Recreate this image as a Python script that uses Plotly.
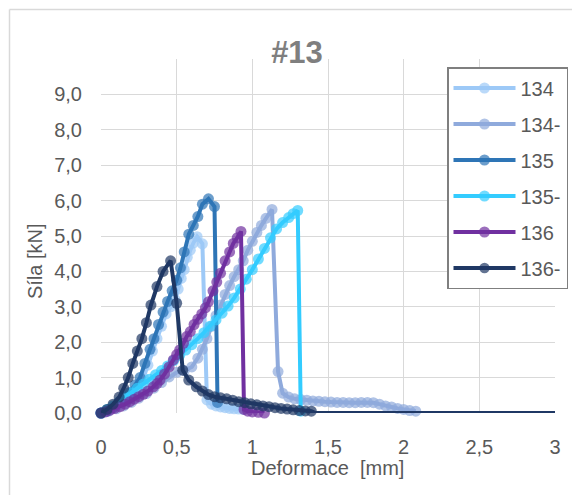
import plotly.graph_objects as go

# Series names, colours and measured points (deformation in mm, force in kN)
names = ["134", "134-", "135", "135-", "136", "136-"]
colors = ["#9DC9F7", "#8FAADC", "#2E75B6", "#33CCFF", "#7030A0", "#1F3864"]

x_134 = [0, 0.05, 0.10, 0.15, 0.20, 0.24, 0.28, 0.31, 0.34, 0.37, 0.40, 0.43, 0.46,
         0.49, 0.51, 0.53, 0.55, 0.57, 0.59, 0.61, 0.635, 0.67, 0.70, 0.73, 0.76,
         0.79, 0.82, 0.85, 0.88, 0.91, 0.94]
y_134 = [0, 0.10, 0.20, 0.35, 0.50, 0.70, 1.00, 1.35, 1.75, 2.10, 2.45, 2.80, 3.00,
         3.20, 3.50, 3.80, 4.05, 4.40, 4.60, 4.80, 4.98, 4.78, 0.37, 0.25, 0.20,
         0.17, 0.15, 0.13, 0.12, 0.11, 0.10]

x_134m = [0, 0.05, 0.10, 0.15, 0.20, 0.25, 0.30, 0.35, 0.40, 0.45, 0.50, 0.55, 0.60,
          0.64, 0.67, 0.70, 0.73, 0.76, 0.79, 0.82, 0.85, 0.88, 0.91, 0.94, 0.97,
          1.00, 1.03, 1.06, 1.09, 1.13, 1.17, 1.20, 1.24, 1.28, 1.32, 1.36, 1.40,
          1.44, 1.48, 1.52, 1.56, 1.60, 1.64, 1.68, 1.72, 1.76, 1.80, 1.84, 1.88,
          1.92, 1.96, 2.00, 2.04, 2.08]
y_134m = [0, 0.05, 0.12, 0.20, 0.30, 0.42, 0.55, 0.70, 0.86, 1.02, 1.15, 1.20, 1.30,
          1.55, 1.80, 2.10, 2.45, 2.75, 3.05, 3.35, 3.60, 3.85, 4.05, 4.30, 4.60,
          4.85, 5.10, 5.30, 5.50, 5.75, 1.17, 0.56, 0.45, 0.40, 0.38, 0.36, 0.34,
          0.33, 0.32, 0.31, 0.30, 0.30, 0.29, 0.29, 0.30, 0.30, 0.29, 0.25, 0.20,
          0.17, 0.13, 0.10, 0.07, 0.05]

x_135 = [0, 0.04, 0.08, 0.12, 0.16, 0.19, 0.225, 0.258, 0.29, 0.324, 0.35, 0.38,
         0.41, 0.44, 0.47, 0.50, 0.525, 0.55, 0.58, 0.61, 0.64, 0.67, 0.71, 0.75, 0.77]
y_135 = [0, 0.05, 0.15, 0.30, 0.45, 0.58, 0.79, 1.00, 1.40, 1.80, 2.10, 2.50,
         2.85, 3.15, 3.45, 3.75, 4.10, 4.55, 5.05, 5.30, 5.55, 5.90, 6.05, 5.83, 0.30]

x_135m = [0, 0.04, 0.08, 0.12, 0.16, 0.20, 0.24, 0.28, 0.32, 0.36, 0.40, 0.44, 0.48,
          0.52, 0.56, 0.60, 0.64, 0.68, 0.72, 0.76, 0.80, 0.84, 0.88, 0.92, 0.96,
          1.00, 1.04, 1.08, 1.12, 1.16, 1.20, 1.24, 1.27, 1.30, 1.32]
y_135m = [0, 0.10, 0.20, 0.32, 0.45, 0.57, 0.70, 0.82, 0.95, 1.08, 1.20, 1.33, 1.48,
          1.63, 1.78, 1.93, 2.10, 2.27, 2.45, 2.63, 2.82, 3.02, 3.25, 3.50, 3.78,
          4.05, 4.35, 4.65, 4.95, 5.20, 5.38, 5.52, 5.63, 5.72, 0.05]

x_136 = [0, 0.03, 0.06, 0.09, 0.126, 0.16, 0.19, 0.22, 0.25, 0.28, 0.31, 0.346, 0.37,
         0.39, 0.42, 0.45, 0.478, 0.50, 0.52, 0.545, 0.566, 0.59, 0.615, 0.64, 0.666,
         0.69, 0.71, 0.74, 0.765, 0.79, 0.82, 0.85, 0.874, 0.90, 0.925, 0.945, 0.97,
         1.00, 1.04, 1.08]
y_136 = [0, 0.03, 0.08, 0.13, 0.18, 0.25, 0.32, 0.39, 0.46, 0.53, 0.62, 0.74, 0.83,
         0.93, 1.10, 1.30, 1.50, 1.65, 1.78, 1.97, 2.16, 2.30, 2.50, 2.65, 2.80,
         2.97, 3.14, 3.45, 3.70, 3.95, 4.30, 4.55, 4.79, 4.95, 5.13, 0.10, 0.05,
         0.03, 0.02, 0.00]

x_136m = [0, 0.04, 0.08, 0.12, 0.15, 0.18, 0.21, 0.24, 0.27, 0.30, 0.33, 0.37, 0.41,
          0.46, 0.50, 0.54, 0.58, 0.63, 0.67, 0.71, 0.75, 0.79, 0.83, 0.87, 0.91,
          0.95, 0.99, 1.03, 1.07, 1.11, 1.15, 1.19, 1.23, 1.27, 1.31, 1.35, 1.39,
          1.42, 3.00]
y_136m = [0, 0.10, 0.25, 0.45, 0.70, 1.00, 1.40, 1.75, 2.10, 2.55, 3.05, 3.57, 4.00,
          4.30, 3.10, 1.21, 0.93, 0.74, 0.62, 0.52, 0.46, 0.43, 0.40, 0.36, 0.32,
          0.29, 0.26, 0.23, 0.20, 0.18, 0.15, 0.13, 0.11, 0.09, 0.07, 0.06, 0.05,
          0.00, 0.00]
# the last two 136- samples are the zero run-out, drawn without markers
n_plain_136m = 2

series_x = [x_134, x_134m, x_135, x_135m, x_136, x_136m]
series_y = [y_134, y_134m, y_135, y_135m, y_136, y_136m]

x_ticks = [0, 0.5, 1, 1.5, 2, 2.5, 3]
x_tick_text = ["0", "0,5", "1", "1,5", "2", "2,5", "3"]
y_ticks = [0, 1, 2, 3, 4, 5, 6, 7, 8, 9]
y_tick_text = ["0,0", "1,0", "2,0", "3,0", "4,0", "5,0", "6,0", "7,0", "8,0", "9,0"]

FONT = "Liberation Sans, Arial, sans-serif"
TXT = "#595959"
W, H = 572, 495
L, R, T, B = 101, 17, 59, 82
MSIZE = 11
LWIDTH = 4

fig = go.Figure()
for name, col, xs, ys in zip(names, colors, series_x, series_y):
    sizes = [MSIZE] * len(xs)
    if name == "136-":
        sizes = [MSIZE] * (len(xs) - n_plain_136m) + [0] * n_plain_136m
    fig.add_trace(go.Scatter(
        x=xs, y=ys, name=name, mode="lines+markers",
        line=dict(color=col, width=LWIDTH),
        marker=dict(color=col, size=sizes, line=dict(width=0)),
        cliponaxis=False, legendgroup=name,
    ))

def px_x(p):
    return (p - L) / (W - L - R)

def px_y(p):
    return (H - B - p) / (H - T - B)

fig.update_layout(
    width=W, height=H,
    margin=dict(l=L, r=R, t=T, b=B, autoexpand=False),
    paper_bgcolor="white", plot_bgcolor="white",
    font=dict(family=FONT, color=TXT, size=20),
    title=dict(text="<b>#13</b>", x=297 / W, y=1 - 52 / H, xanchor="center",
               yanchor="middle", font=dict(size=31, color="#7F7F7F", family=FONT)),
    showlegend=True,
    legend=dict(x=px_x(447), y=px_y(67), xanchor="left", yanchor="top",
                bgcolor="white", bordercolor="#7F7F7F", borderwidth=1.5,
                font=dict(size=20, color=TXT, family=FONT),
                traceorder="grouped", tracegroupgap=7, itemwidth=62),
    xaxis=dict(range=[0, 3], tickvals=x_ticks, ticktext=x_tick_text,
               showgrid=True, gridcolor="#D9D9D9", gridwidth=1,
               zeroline=False, showline=False,
               ticks="outside", ticklen=16, tickcolor="rgba(0,0,0,0)",
               tickfont=dict(size=20, color=TXT)),
    yaxis=dict(range=[0, 10], tickvals=y_ticks, ticktext=y_tick_text,
               showgrid=True, gridcolor="#D9D9D9", gridwidth=1,
               zeroline=False, showline=False,
               ticks="outside", ticklen=14, tickcolor="rgba(0,0,0,0)",
               tickfont=dict(size=20, color=TXT)),
    annotations=[
        dict(text="Deformace  [mm]", x=px_x(327), y=px_y(468), xref="paper", yref="paper",
             xanchor="center", yanchor="middle", showarrow=False,
             font=dict(size=20, color=TXT, family=FONT)),
        dict(text="Síla [kN]", x=px_x(35), y=px_y(261), xref="paper", yref="paper",
             xanchor="center", yanchor="middle", textangle=-90, showarrow=False,
             font=dict(size=20, color=TXT, family=FONT)),
    ],
    shapes=[
        # chart frame: top and left edges (the rest runs past the page)
        dict(type="line", xref="paper", yref="paper",
             x0=px_x(9.5), x1=px_x(W + 2), y0=px_y(9.5), y1=px_y(9.5),
             line=dict(color="#D9D9D9", width=1.5), layer="below"),
        dict(type="line", xref="paper", yref="paper",
             x0=px_x(9.5), x1=px_x(9.5), y0=px_y(H + 2), y1=px_y(9.5),
             line=dict(color="#D9D9D9", width=1.5), layer="below"),
    ],
)

fig.write_html("out.html")
